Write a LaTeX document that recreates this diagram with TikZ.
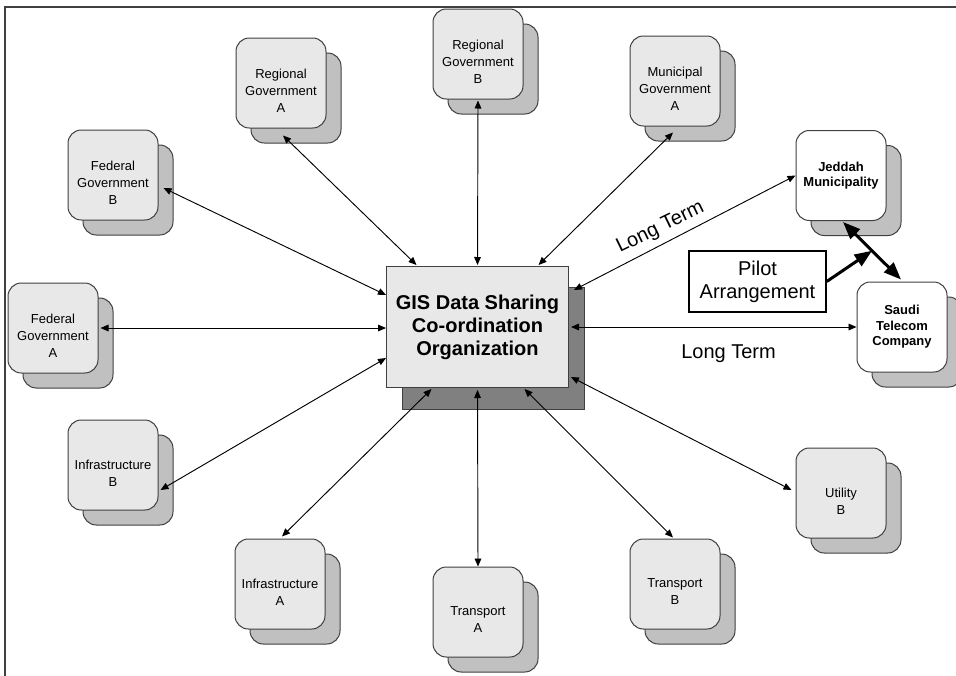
\documentclass[tikz,border=0pt]{standalone}
\usepackage{fontspec}
\setmainfont{Liberation Sans}
\usetikzlibrary{arrows.meta,calc}
\definecolor{frontgray}{HTML}{E8E8E8}
\definecolor{backgray}{HTML}{C0C0C0}
\definecolor{darkback}{HTML}{808080}
\definecolor{edgegray}{HTML}{404040}
\tikzset{
  frontbox/.style={draw=edgegray, fill=frontgray, rounded corners=10pt,
    minimum width=67.5pt, minimum height=67.5pt, inner sep=0pt, line width=0.75pt},
  backbox/.style={frontbox, fill=backgray},
  whitebox/.style={frontbox, fill=white},
  sattext/.style={align=center, font=\fontsize{9.75pt}{12.75pt}\selectfont, inner sep=0pt},
  boldtext/.style={align=center, font=\fontsize{9.75pt}{11.6pt}\selectfont\bfseries, inner sep=0pt},
  centerfront/.style={draw=edgegray, fill=frontgray, line width=0.75pt,
    minimum width=136.5pt, minimum height=90.75pt, inner sep=0pt, align=center,
    font=\fontsize{15pt}{17.25pt}\selectfont\bfseries},
  centerback/.style={draw=edgegray, fill=darkback, line width=0.75pt,
    minimum width=136.5pt, minimum height=91.5pt, inner sep=0pt},
  pilotbox/.style={draw=black, fill=white, line width=1.1pt,
    minimum width=102.75pt, minimum height=45.75pt, inner sep=0pt, align=center,
    font=\fontsize{15pt}{17.25pt}\selectfont},
  bigtext/.style={font=\fontsize{15pt}{17.25pt}\selectfont, inner sep=0pt},
  link/.style={draw=black, line width=0.7pt,
    {Triangle[length=6pt,width=5pt]}-{Triangle[length=6pt,width=5pt]}},
  thicklink/.style={draw=black, line width=2.25pt,
    {Triangle[length=13pt,width=10pt]}-{Triangle[length=13pt,width=10pt]}},
  thickarrow/.style={draw=black, line width=2.25pt, -{Triangle[length=13pt,width=10pt]}},
  frameline/.style={draw=edgegray, line width=1.5pt},
}
\newcommand\satnode[4]{%
  \node[backbox] (#1back) at (#2+15,#3+15) {};
  \node[frontbox] (#1) at (#2,#3) {};
  \node[sattext] (#1text) at (#2,#3+8) {#4};
}
\begin{document}
\begin{tikzpicture}[x=0.75pt,y=-0.75pt]
\clip (0,0) rectangle (956,675);
\fill[white] (0,0) rectangle (956,675);
\draw[frameline] (5,677) -- (5,7) -- (958,7);

% centre
\node[centerback] (gisb) at (493,348.5) {};
\node[centerfront] (gis) at (477.5,327) {GIS Data Sharing\\Co-ordination\\Organization};

% satellites
\satnode{rgb}{478}{54}{Regional\\Government\\B}
\satnode{rga}{281}{83}{Regional\\Government\\A}
\satnode{mga}{675}{81}{Municipal\\Government\\A}
\satnode{fgb}{113}{175}{Federal\\Government\\B}
\satnode{fga}{53}{328}{Federal\\Government\\A}
\satnode{ifb}{113}{465}{Infrastructure\\B}
\satnode{ifa}{280}{584}{Infrastructure\\A}
\satnode{tra}{478}{612}{Transport\\A}
\satnode{trb}{675}{584}{Transport\\B}
\satnode{utb}{841}{493}{Utility\\B}

% pilot partners
\node[backbox] (jedback) at (856,190.5) {};
\node[whitebox] (jed) at (841,175.5) {};
\node[boldtext] (jedtext) at (841,175.5) {Jeddah\\Municipality};
\node[backbox] (stcback) at (917,342) {};
\node[whitebox] (stc) at (902,327) {};
\node[boldtext] (stctext) at (902,327) {Saudi\\Telecom\\Company};

\node[pilotbox] (pilot) at (757.5,281.5) {Pilot\\Arrangement};

% connectors
\draw[link] ($(rgb.south)+(0,1)$) -- ($(gis.north)+(0,-1)$);
\draw[link] ($(rga.south)+(2,7)$) -- ($(gis.north)+(-61,-1)$);
\draw[link] ($(mga.south)+(-2,6)$) -- ($(gis.north)+(61,-1)$);
\draw[link] ($(fgb.east)+(5,13)$) -- ($(gis.west)+(0,-32)$);
\draw[link] ($(fga.east)+(2,0)$) -- (fga.east -| gis.west);
\draw[link] ($(ifb.east)+(2,25)$) -- ($(gis.west)+(0,31)$);
\draw[link] ($(ifa.north)+(2,-2)$) -- ($(gis.south)+(-46,1)$);
\draw[link] (tra.north) -- ($(gis.south)+(0,2)$);
\draw[link] ($(trb.north)+(-2,-1)$) -- ($(gis.south)+(47,1)$);
\draw[link] ($(utb.west)+(-4,-3)$) -- ($(gis.east)+(2,50)$);
\draw[link] ($(gis.east)+(2,0)$) -- (stc.west);
\draw[link] ($(gis.east)+(5,-37)$) -- (jed.west);
\draw[thicklink] ($(jed.south)+(2,1)$) -- coordinate[pos=0.5] (mid) ($(stc.north)+(-1,-2)$);
\draw[thickarrow] (pilot.east) -- (mid);

% labels
\node[bigtext, anchor=base west, rotate=26] (ltup) at (620,253) {Long Term};
\node[bigtext, anchor=base] (ltlow) at (728.5,358) {Long Term};
\end{tikzpicture}
\end{document}
